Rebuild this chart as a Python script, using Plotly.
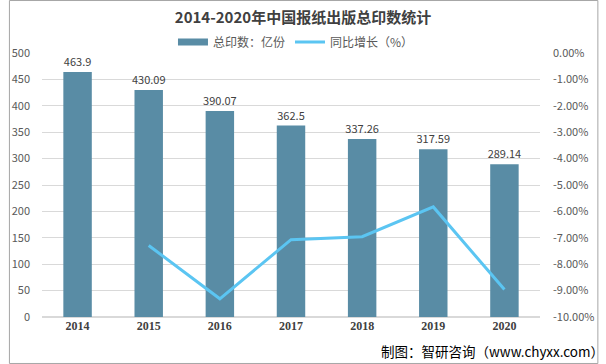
import plotly.graph_objects as go

years = ["2014", "2015", "2016", "2017", "2018", "2019", "2020"]
total_prints = [463.9, 430.09, 390.07, 362.5, 337.26, 317.59, 289.14]
growth_years = ["2015", "2016", "2017", "2018", "2019", "2020"]
growth_pct = [-7.29, -9.31, -7.07, -6.96, -5.83, -8.96]
left_ticks = [0, 50, 100, 150, 200, 250, 300, 350, 400, 450, 500]
right_ticks = [0, -1, -2, -3, -4, -5, -6, -7, -8, -9, -10]

font_cn = "Noto Sans CJK SC, Microsoft YaHei, sans-serif"
bar_color = "#598ca5"
line_color = "#5bc5f2"

fig = go.Figure()
fig.add_trace(go.Bar(
    x=years, y=total_prints, name="总印数：亿份", showlegend=False,
    marker=dict(color=bar_color, line=dict(width=0)),
    text=[str(v) for v in total_prints], textposition="outside",
    constraintext="none",
    textfont=dict(size=11, color="#404040", family=font_cn),
    cliponaxis=False,
))
# legend entry for the bars (wide rectangle icon)
fig.add_trace(go.Scatter(
    x=[None], y=[None], name="总印数：亿份", mode="lines",
    line=dict(color=bar_color, width=7),
))
fig.add_trace(go.Scatter(
    x=growth_years, y=growth_pct, name="同比增长（%）", yaxis="y2",
    mode="lines", line=dict(color=line_color, width=3),
))

fig.update_layout(
    width=606, height=364,
    margin=dict(l=34, r=60, t=53, b=47),
    paper_bgcolor="white", plot_bgcolor="white",
    bargap=0.6,
    font=dict(family=font_cn, size=11, color="#595959"),
    title=dict(text="<b>2014-2020年中国报纸出版总印数统计</b>", x=0.5, xanchor="center",
               y=1 - 18/364, yanchor="middle", font=dict(size=15, color="#404040", family=font_cn)),
    legend=dict(orientation="h", x=0.51, xanchor="center", y=1 + 11/264, yanchor="middle",
                font=dict(size=12, color="#595959"), itemwidth=30,
                bgcolor="rgba(0,0,0,0)"),
    xaxis=dict(showline=False, ticks="", showgrid=False,
               tickfont=dict(size=12, color="#404040", family="Liberation Serif, serif"),
               tickprefix="<b>", ticksuffix="</b>"),
    yaxis=dict(range=[0, 500], tickvals=left_ticks, showgrid=True, gridcolor="#d9d9d9",
               gridwidth=1, zeroline=True, zerolinecolor="#d9d9d9", ticks="",
               tickfont=dict(size=11, color="#595959"), ticklabelstandoff=11),
    yaxis2=dict(range=[-10, 0], tickvals=right_ticks, overlaying="y", side="right",
                showgrid=False, zeroline=False, ticks="", tickmode="array",
                ticktext=[f"{v:.2f}%" for v in right_ticks],
                tickfont=dict(size=11, color="#595959"), ticklabelstandoff=12),
    shapes=[dict(type="rect", xref="paper", yref="paper", x0=-34/512 + 0.001, x1=1+60/512 - 0.001,
                 y0=-47/264 + 0.002, y1=1+53/264 - 0.002, line=dict(color="#a6a6a6", width=1))],
)

fig.add_annotation(text="制图：智研咨询（www.chyxx.com）", xref="paper", yref="paper",
                   x=1+68/512, xanchor="right", y=-(351-317)/264, yanchor="middle", showarrow=False,
                   font=dict(size=13.5, color="#000000", family=font_cn))

fig.write_html("out.html", config={"displayModeBar": False},
               post_script="document.body.style.margin='0';document.body.style.overflow='hidden';")
